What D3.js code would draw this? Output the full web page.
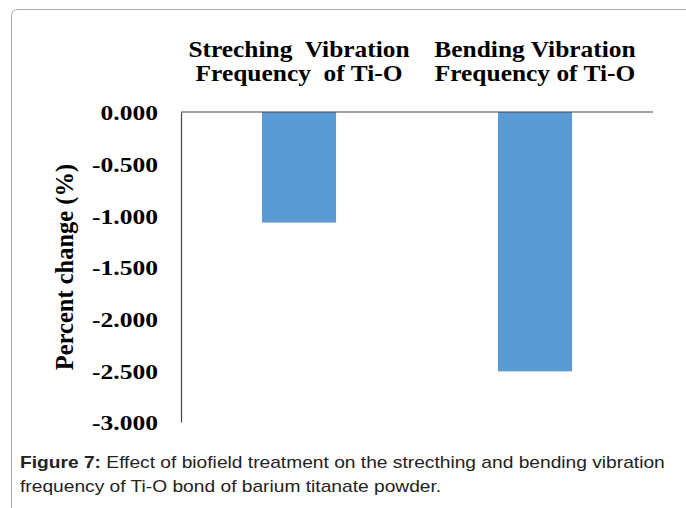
<!DOCTYPE html>
<html lang="en">
<head>
<meta charset="utf-8" />
<title>Figure 7</title>
<script src="https://cdn.jsdelivr.net/npm/d3@7"></script>
<style>
  body { margin: 0; background: #fff; }
  svg { display: block; }
</style>
</head>
<body>
<div id="chart"></div>
<script>
  // data
  var categories = ["Streching  Vibration|Frequency  of Ti-O", "Bending Vibration|Frequency of Ti-O"];
  var values = [-1.07, -2.51];
  var yTicks = [0, -0.5, -1, -1.5, -2, -2.5, -3];

  var width = 686, height = 508;
  var margin = {left: 181, right: 33, top: 112, bottom: 86};
  var serif = "'Liberation Serif', 'Times New Roman', serif";

  var svg = d3.select("#chart").append("svg")
      .attr("width", width)
      .attr("height", height);

  // the original picture is a bit wide, so text gets stretched sideways
  function widen(sel, ax, ay, sx) {
    sel.attr("x", 0).attr("y", 0)
       .attr("transform", "translate(" + ax + "," + ay + ") scale(" + sx + ",1)");
  }

  // frame of the figure box
  svg.append("rect")
      .attr("x", 11.5).attr("y", 9.5)
      .attr("width", 700).attr("height", 520)
      .attr("rx", 6)
      .attr("fill", "none")
      .attr("stroke", "#a8a8a8");

  var x = d3.scaleBand()
      .domain(categories)
      .range([margin.left, width - margin.right])
      .paddingInner(0.686)
      .paddingOuter(0.343);

  var y = d3.scaleLinear()
      .domain([0, -3])
      .range([margin.top, height - margin.bottom]);

  // bars
  svg.selectAll(".bar")
      .data(values)
      .enter().append("rect")
      .attr("class", "bar")
      .attr("x", function(d, i) { return x(categories[i]); })
      .attr("y", y(0))
      .attr("width", x.bandwidth())
      .attr("height", function(d) { return y(d) - y(0); })
      .attr("fill", "#5b9bd5");

  // y axis
  var yAxis = d3.axisLeft(y)
      .tickValues(yTicks)
      .tickSize(0)
      .tickPadding(24);

  var gy = svg.append("g")
      .attr("transform", "translate(" + margin.left + ",0)")
      .call(yAxis);
  gy.select(".domain").attr("stroke", "#444").attr("stroke-width", 1.2);
  gy.selectAll("text")
      .attr("font-family", serif)
      .attr("font-weight", "bold")
      .attr("font-size", 22)
      .attr("fill", "#000")
      .attr("dy", "0.36em")
      .text(function(d) { return d3.format(".3f")(d).replace("\u2212", "-"); })
      .each(function() { widen(d3.select(this), -23, 0, 1.16); });

  // zero line across the top
  svg.append("line")
      .attr("x1", margin.left).attr("x2", width - margin.right)
      .attr("y1", y(0)).attr("y2", y(0))
      .attr("stroke", "#444").attr("stroke-width", 1.2);

  // category labels above the plot
  categories.forEach(function(d) {
    var cx = x(d) + x.bandwidth() / 2;
    d.split("|").forEach(function(line, k) {
      var t = svg.append("text")
          .attr("text-anchor", "middle")
          .attr("font-family", serif)
          .attr("font-weight", "bold")
          .attr("font-size", 22.5)
          .attr("fill", "#000")
          .attr("style", "white-space: pre")
          .text(line);
      widen(t, cx, 57 + k * 24, 1.13);
    });
  });

  // y axis title
  svg.append("text")
      .attr("transform", "translate(73," + ((y(0) + y(-3)) / 2) + ") rotate(-90)")
      .attr("text-anchor", "middle")
      .attr("font-family", serif)
      .attr("font-weight", "bold")
      .attr("font-size", 24.5)
      .attr("fill", "#000")
      .text("Percent change (%)");

  // caption
  var cap1 = svg.append("text")
      .attr("font-family", "'Liberation Sans', Arial, sans-serif")
      .attr("font-size", 16)
      .attr("fill", "#222");
  cap1.append("tspan").attr("font-weight", "bold").text("Figure 7:");
  cap1.append("tspan").text(" Effect of biofield treatment on the strecthing and bending vibration");
  widen(cap1, 20, 468, 1.2);

  var cap2 = svg.append("text")
      .attr("font-family", "'Liberation Sans', Arial, sans-serif")
      .attr("font-size", 16)
      .attr("fill", "#222")
      .text("frequency of Ti-O bond of barium titanate powder.");
  widen(cap2, 20, 492, 1.2);
</script>
</body>
</html>
